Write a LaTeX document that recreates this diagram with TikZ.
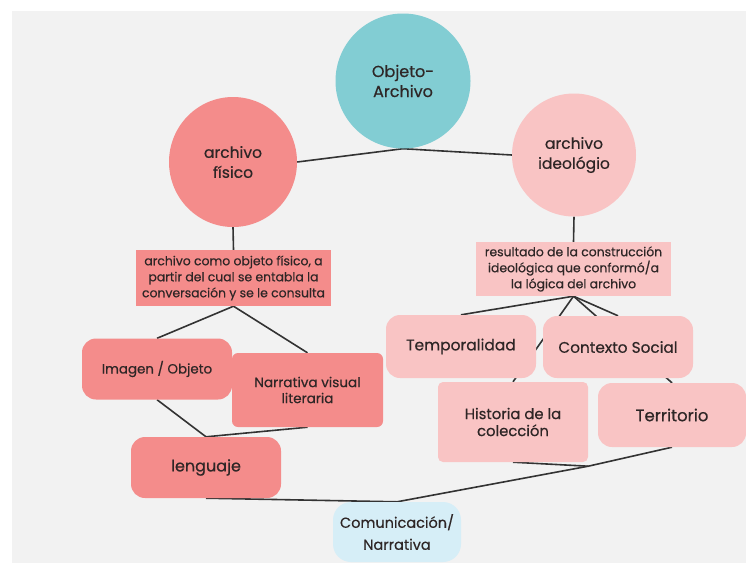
\documentclass[tikz,border=0pt]{standalone}
\usepackage{fontspec}
\setmainfont{Poppins}[FakeBold=0.5]
\usepackage{xcolor}
\usepackage{tikz}
\usetikzlibrary{shapes.geometric}
\usetikzlibrary{shapes}

\definecolor{paper}{HTML}{F2F2F2}
\definecolor{teal}{HTML}{82CDD3}
\definecolor{salmon}{HTML}{F48C8B}
\definecolor{rose}{HTML}{F9C4C4}
\definecolor{sky}{HTML}{D6EEF7}
\definecolor{ink}{HTML}{2E2626}
\definecolor{wire}{HTML}{333333}

\pgfdeclarelayer{paperlayer}
\pgfdeclarelayer{wires}
\pgfsetlayers{paperlayer,wires,main}

\newcommand{\fsz}[2]{\fontsize{#1}{#2}\selectfont}

\begin{document}
\begin{tikzpicture}[x=1pt, y=-1pt,
        every node/.style = {text = ink, align = center, inner sep = 0pt},
        bigdot/.style = {ellipse, minimum width = #1},
        note/.style = {rectangle, minimum width = 195pt, minimum height = 55pt,
            font = \fsz{12.4}{16}},
        blob/.style = {rectangle, rounded corners = 14pt, minimum width = 150pt,
            font = \fsz{14}{17}},
        wire/.style = {draw = wire, line width = 1.6pt}]

        \useasboundingbox (0, 0) rectangle (746, 563);
        \begin{pgfonlayer}{paperlayer}
            \fill[white] (0, 0) rectangle (746, 563);
            \fill[paper] (12, 11) rectangle (746, 563);
        \end{pgfonlayer}

        \node[circle, fill = teal, minimum size = 135pt,
            font = \fsz{16}{20}] (obj) at (403, 81) {Objeto-\\Archivo};
        \node[bigdot = 128pt, minimum height = 130pt, fill = salmon,
            font = \fsz{15.5}{20}] (fis) at (233, 162) {archivo\\físico};
        \node[bigdot = 124pt, minimum height = 123pt, fill = rose,
            font = \fsz{15.5}{20}] (ideo) at (574, 155) {archivo\\ideológio};

        \node[note, fill = salmon, minimum height = 56pt] (fisbox) at (233.5, 278)
            {archivo como objeto físico, a\\partir del cual se entabla la\\conversación y se le consulta};
        \node[note, fill = rose, minimum height = 54pt] (ideobox) at (573.5, 269)
            {resultado de la construcción\\ideológica que conformó/a\\la lógica del archivo};

        \node[blob, fill = salmon, minimum height = 61pt, font = \fsz{13.4}{17}] (imagen)
            at (157, 369) {Imagen / Objeto};
        \node[blob, fill = salmon, rounded corners = 6pt, minimum width = 151pt,
            minimum height = 74pt, font = \fsz{13.6}{16}] (narr) at (307.5, 390)
            {Narrativa visual\\literaria};
        \node[blob, fill = salmon, minimum height = 61pt,
            font = \fsz{16}{20}] (lengua) at (206, 467.5) {lenguaje};

        \node[blob, fill = rose, minimum height = 63pt, font = \fsz{15.5}{17}] (tempo)
            at (461, 346.5) {Temporalidad};
        \node[blob, fill = rose, minimum height = 62pt, font = \fsz{15.3}{17}] (contexto)
            at (618, 347) {Contexto Social};
        \node[blob, fill = rose, rounded corners = 5pt, minimum height = 80pt,
            font = \fsz{14.8}{17}] (hist) at (513, 422) {Historia de la\\colección};
        \node[blob, fill = rose, minimum width = 148pt, minimum height = 64pt,
            font = \fsz{16.5}{17}] (terri) at (672, 415) {Territorio};

        \node[blob, fill = sky, rounded corners = 18pt, minimum width = 128pt, minimum height = 60pt,
            font = \fsz{14.5}{22}] (comun) at (397, 532) {Comunicación/\\Narrativa};

        \coordinate (join) at ([yshift = -4pt]hist.south east);

        \begin{pgfonlayer}{wires}
            \draw[wire] (fis.east) -- (obj.south) -- (ideo.west);
            \draw[wire] (fis.south) -- (fisbox.north);
            \draw[wire] (ideo.south) -- (ideobox.north);

            \draw[wire] (imagen.north) -- (fisbox.south) -- (narr.north);
            \draw[wire] (imagen.south) -- (lengua.north) -- (narr.south);

            \draw[wire] (tempo.north) -- (ideobox.south) -- (contexto.north);
            \draw[wire] (hist.north) -- (ideobox.south) -- (terri.north);

            \draw[wire] (lengua.south) -- (comun.north) -- (join) -- (terri.south);
            \draw[wire] (hist.south) -- (join);
        \end{pgfonlayer}
    \end{tikzpicture}
\end{document}
